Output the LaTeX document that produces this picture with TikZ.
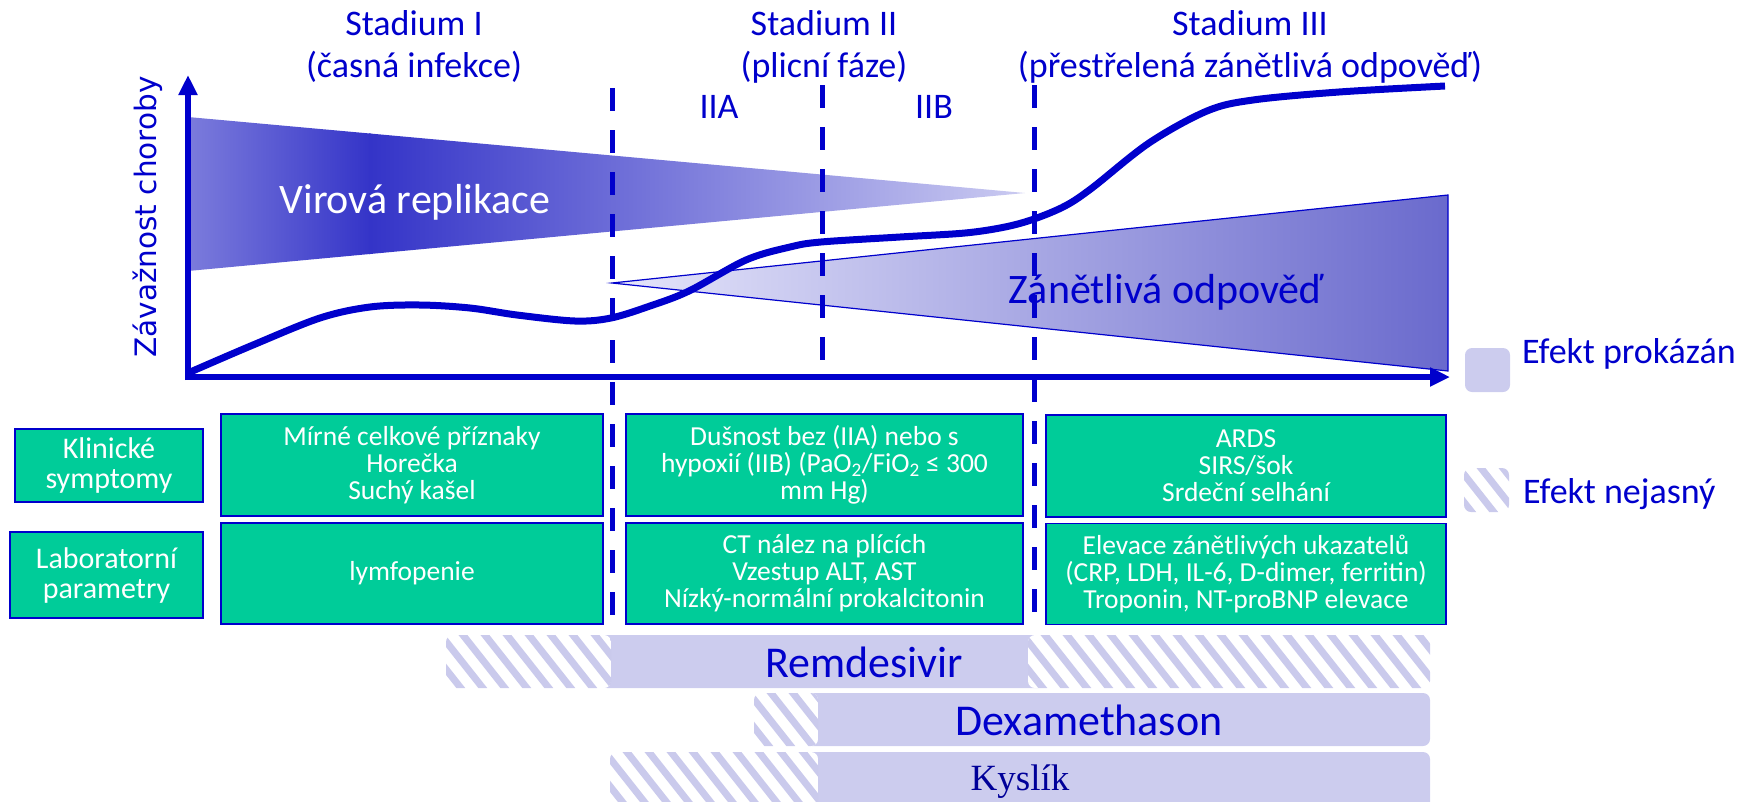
\documentclass[tikz,border=0pt]{standalone}
\usepackage{fontspec}
\setmainfont{Carlito}
\newfontfamily\dejavu{DejaVu Sans}
\newfontfamily\timesf{Liberation Serif}
\usetikzlibrary{arrows.meta}
\definecolor{tblue}{HTML}{0000CC}
\definecolor{tealbox}{HTML}{00CC99}
\definecolor{lav}{HTML}{CCCCEE}
\definecolor{hatchc}{HTML}{CACAEC}
\definecolor{virL}{HTML}{7C7CDC}
\definecolor{virD}{HTML}{3434C8}
\definecolor{virM}{HTML}{8C8CE0}
\definecolor{virT}{HTML}{CBCBF1}
\definecolor{zanL}{HTML}{E6E6FA}
\definecolor{zanR}{HTML}{6A6ACD}
\newcommand\fs[2]{\fontsize{#1}{#2}\selectfont}
\newcommand\hatchrect[4]{%
  \begin{scope}
    \clip[rounded corners=7pt] (#1,#2) rectangle (#3,#4);
    \fill[white] (#1,#2) rectangle (#3,#4);
    \pgfmathtruncatemacro\nh{(#3-#1+90)/22}
    \foreach \k in {0,...,\nh}{\draw[hatchline] ({#1-75+\k*22},{#2-5}) -- ++(60,76);}
  \end{scope}}
\begin{document}
\begin{tikzpicture}[x=1pt,y=-1pt,
  stagebox/.style={draw=tblue, line width=1.5pt, fill=tealbox, text=white, align=center, inner sep=0pt, font=\fs{27.5}{27}},
  labelbox/.style={draw=tblue, line width=1.5pt, fill=tealbox, text=white, align=center, inner sep=0pt, font=\fs{30}{30}},
  headtxt/.style={text=tblue, anchor=base, inner sep=0pt, font=\fs{36}{42}},
  bartxt/.style={text=tblue, anchor=base, inner sep=0pt, font=\fs{44}{44}},
  dashline/.style={draw=tblue, line width=5pt, dash pattern=on 23pt off 19pt},
  axisline/.style={draw=tblue, line width=6pt, -{Triangle[length=20pt,width=18pt]}},
  hatchline/.style={draw=hatchc, line width=7pt},
  barfill/.style={fill=lav, rounded corners=7pt}
]
\useasboundingbox (0,0) rectangle (1752,801);

% ---------- wedges ----------
\shade[left color=virL, right color=virD] (188,117) -- (371,133.6) -- (371,253.9) -- (188,271) -- cycle;
\fill[virD] (369,133.4) -- (371,133.6) -- (371,253.9) -- (369,254.1) -- cycle;
\shade[left color=virD, middle color=virM, right color=virT] (370,133.5) -- (1025,193) -- (370,254) -- cycle;

\shade[left color=zanL, right color=zanR, draw=tblue, line width=1.2pt] (612,283) -- (1448,195) -- (1448,371) -- cycle;

% ---------- coordinates ----------
\coordinate (O) at (188,377);
\coordinate (ytop) at (188,75);
\coordinate (xend) at (1450,377);
\coordinate (d1t) at (612,88);  \coordinate (d1b) at (612,616);
\coordinate (d2t) at (822,85);  \coordinate (d2b) at (822,361);
\coordinate (d3t) at (1034,85); \coordinate (d3b) at (1034,612);

% ---------- dashed stage lines ----------
\draw[dashline] (d1t) -- (d1b);
\draw[dashline] (d2t) -- (d2b);
\draw[dashline] (d3t) -- (d3b);

% ---------- severity curve ----------
\draw[tblue, line width=7pt, line join=round] plot[smooth, tension=0.55] coordinates {
 (188,373) (253,345) (320,318) (370,307) (420,305) (470,308) (517,315) (575,321) (611,318)
 (650,306) (689,291) (746,260) (790,247) (821,242) (900,237) (965,233) (1005,227) (1034,219)
 (1065,206) (1092,188) (1149,143) (1207,111) (1253,100) (1339,92) (1445,86)};

% ---------- axes ----------
\draw[axisline] (188,380) -- (ytop);
\draw[axisline] (185,377) -- (xend);

% ---------- texts in chart ----------
\node[text=white, anchor=base, inner sep=0pt, font=\fs{42}{42}] (vir) at (415,213) {Virová replikace};
\node[text=tblue, anchor=base, inner sep=0pt, font=\fs{42}{42}] (zan) at (1166,303) {Zánětlivá odpověď};
\node[text=tblue, rotate=90, inner sep=0pt, font=\dejavu\fs{29.5}{29}] (yl) at (148,217) {Závažnost choroby};

\node[headtxt] (s1a) at (414,35) {Stadium I};
\node[headtxt] (s1b) at (414,77) {(časná infekce)};
\node[headtxt] (s2a) at (824,35) {Stadium II};
\node[headtxt] (s2b) at (824,77) {(plicní fáze)};
\node[headtxt] (s3a) at (1250,35) {Stadium III};
\node[headtxt] (s3b) at (1250,77) {(přestřelená zánětlivá odpověď)};
\node[headtxt] (iia) at (719,118) {IIA};
\node[headtxt] (iib) at (934,118) {IIB};

% ---------- legend ----------
\fill[barfill] (1465,348) rectangle (1510,392);
\hatchrect{1464}{468}{1509}{512}
\node[text=tblue, anchor=base west, inner sep=0pt, font=\fs{36}{36}] (lg1) at (1522,363) {Efekt prokázán};
\node[text=tblue, anchor=base west, inner sep=0pt, font=\fs{36}{36}] (lg2) at (1523,503) {Efekt nejasný};

% ---------- row labels ----------
\node[labelbox, minimum width=188pt, minimum height=73pt] (klin) at (109,465.5) {Klinické\\symptomy};
\node[labelbox, minimum width=193pt, minimum height=86pt] (lab) at (106.5,575) {Laboratorní\\parametry};

% ---------- stage boxes ----------
\node[stagebox, minimum width=382pt, minimum height=102pt] (b11) at (412,465) {Mírné celkové příznaky\\Horečka\\Suchý kašel};
\node[stagebox, minimum width=382pt, minimum height=101pt] (b12) at (412,573.5) {lymfopenie};
\node[stagebox, minimum width=397pt, minimum height=102pt] (b21) at (824.5,465) {Dušnost bez (IIA) nebo s\\hypoxií (IIB) (PaO\textsubscript{2}/FiO\textsubscript{2} ≤ 300\\mm Hg)};
\node[stagebox, minimum width=397pt, minimum height=101pt] (b22) at (824.5,573.5) {CT nález na plících\\Vzestup ALT, AST\\Nízký-normální prokalcitonin};
\node[stagebox, minimum width=400pt, minimum height=102pt] (b31) at (1246,466) {ARDS\\SIRS/šok\\Srdeční selhání};
\node[stagebox, minimum width=400pt, minimum height=101pt] (b32) at (1246,574) {Elevace zánětlivých ukazatelů\\(CRP, LDH, IL-6, D-dimer, ferritin)\\Troponin, NT-proBNP elevace};

% ---------- therapy bars ----------
\fill[barfill] (600,635) rectangle (1045,688);
\hatchrect{446}{635}{611}{688}
\hatchrect{1028}{635}{1430}{688}
\fill[barfill] (805,693) rectangle (1430,746);
\hatchrect{754}{693}{818}{746}
\fill[barfill] (805,752) rectangle (1430,820);
\hatchrect{610}{752}{818}{820}

\node[bartxt] (remd) at (864,677) {Remdesivir};
\node[bartxt] (dexa) at (1089,735) {Dexamethason};
\node[text=tblue!75!black, anchor=base, inner sep=0pt, font=\timesf\fs{37}{37}] (kysl) at (1020,790) {Kyslík};
\end{tikzpicture}
\end{document}
